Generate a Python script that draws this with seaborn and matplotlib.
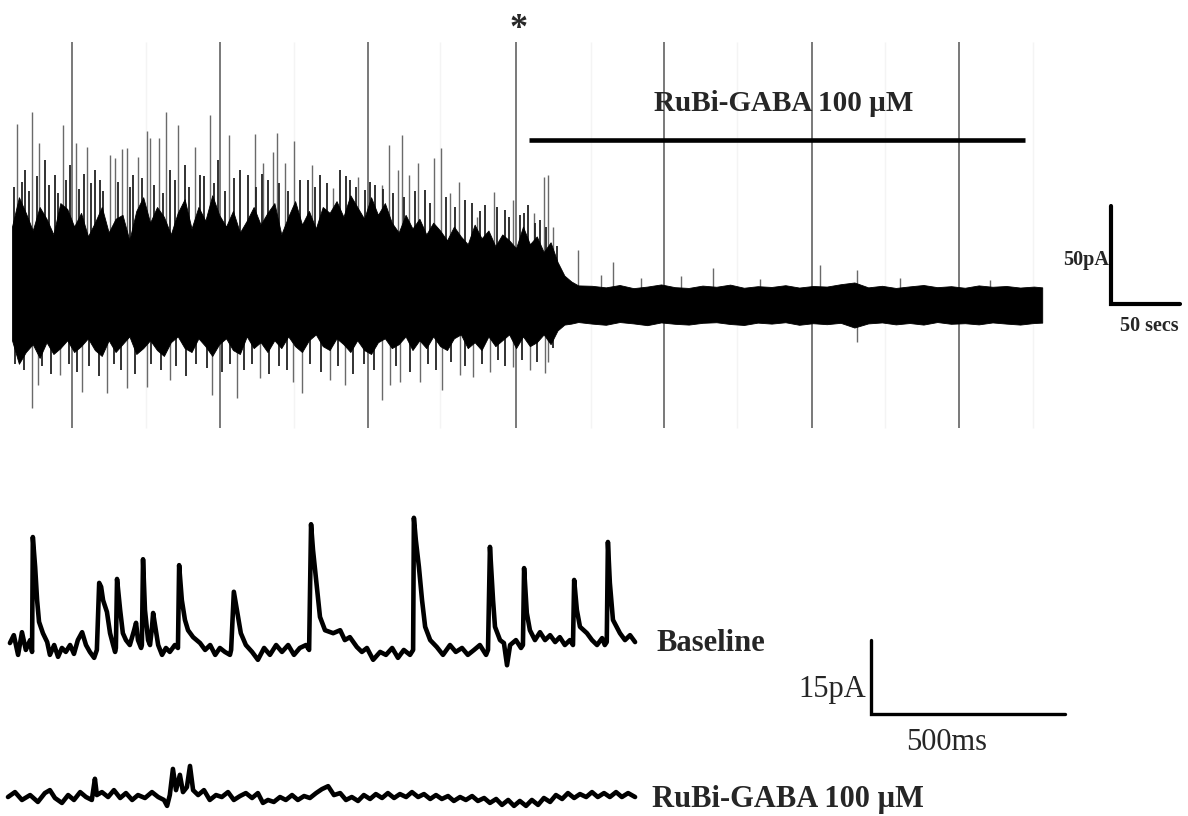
import numpy as np
import pandas as pd
import matplotlib
matplotlib.use("Agg")
import matplotlib.pyplot as plt
import seaborn as sns

# ---- top recording (time in s, current in pA) ----
# outline of the dense black core of the trace
core_t = [0, 5, 10, 15, 20, 25, 30, 35, 40, 45, 50, 55, 60, 65, 70, 75, 80, 85, 90, 95,
          100, 105, 110, 115, 120, 125, 130, 135, 140, 145, 150, 155, 160, 165, 170, 175, 180, 185, 190, 195,
          200, 205, 210, 215, 220, 225, 230, 235, 240, 245, 250, 255, 260, 265, 270, 275, 280, 285, 290, 295,
          300, 305, 310, 315, 320, 325, 330, 335, 340, 345, 350, 355, 360, 365, 370, 375, 380, 385, 390, 395,
          400, 405, 410,
          420, 430, 440, 450, 460, 470, 480, 490, 500, 510, 520, 530, 540, 550, 560, 570, 580, 590,
          600, 610, 620, 630, 640, 650, 660, 670, 680, 690, 700, 710, 720, 730, 740, 746]
core_hi = [40, 55, 47, 38, 50, 44, 36, 52, 49, 40,
           47, 35, 42, 50, 37, 44, 46, 33, 48, 55,
           42, 50, 45, 36, 47, 54, 39, 50, 43, 56,
           46, 40, 48, 37, 43, 50, 41, 47, 52, 36,
           45, 53, 41, 48, 39, 50, 47, 53, 45, 56,
           50, 44, 55, 46, 52, 42, 37, 46, 39, 44,
           36, 42, 38, 33, 40, 35, 31, 41, 34, 38,
           30, 36, 33, 29, 40, 31, 35, 27, 32, 22,
           15, 12, 10,
           9.8, 9.0, 10.2, 8.6, 9.4, 10.5, 9.1, 8.7, 9.9, 9.3, 10.4, 8.8, 9.6, 9.2, 10.1, 8.9, 9.7,
           9.4, 10.6, 11.5, 9.0, 9.8, 8.7, 9.5, 10.2, 9.1, 9.6, 8.8, 10.0, 9.3, 9.7, 8.9, 9.4, 9.0]
core_lo = [-18, -30, -24, -20, -27, -19, -25, -22, -18, -24,
           -21, -17, -23, -26, -18, -24, -20, -16, -25, -22,
           -18, -23, -26, -19, -16, -22, -24, -17, -21, -26,
           -20, -17, -23, -25, -16, -22, -19, -24, -18, -22,
           -16, -21, -24, -18, -15, -21, -23, -17, -20, -24,
           -18, -23, -25, -19, -17, -22, -20, -16, -23, -18,
           -22, -16, -21, -23, -17, -15, -22, -19, -23, -16,
           -21, -18, -15, -22, -16, -21, -19, -15, -20, -13,
           -10, -9.5, -8.7,
           -9.5, -10.1, -8.7, -9.4, -10.3, -8.9, -9.6, -10.0, -9.1, -8.8, -9.7, -10.2, -9.0, -9.5, -8.8, -10.1, -9.3,
           -9.8, -9.1, -11.5, -9.4, -8.9, -9.9, -9.2, -10.0, -8.7, -9.6, -9.3, -9.9, -8.9, -9.5, -10.0, -9.2, -9.0]

# tall (grey) upward events
up_t = [3.6, 14.5, 19.6, 36.9, 46.3, 54.3, 71.0, 74.6, 79.7, 83.3,
        91.2, 97.8, 99.9, 106.4, 111.5, 120.2, 132.5, 143.4, 157.1, 176.0,
        181.8, 189.0, 191.9, 197.7, 204.2, 217.2, 232.4, 250.5, 267.9, 273.0,
        279.5, 282.4, 287.5, 294.0, 305.6, 310.6, 317.2, 323.7, 336.7, 349.0,
        362.8, 378.0, 385.2, 388.1, 391.7, 409.8, 435.2, 507.6, 585.1,
        426.7, 455.6, 484.5, 541.6, 611.9, 643.0, 708.2]
up_pk = [92.3, 98.5, 82.7, 91.8, 82.7, 80.6, 76.5, 75.0, 79.6, 80.1,
         75.5, 88.8, 85.2, 85.2, 98.5, 91.8, 80.6, 96.9, 86.7, 87.2,
         72.4, 78.1, 87.8, 72.4, 83.7, 71.4, 59.7, 65.3, 61.2, 81.6,
         68.9, 86.7, 66.3, 72.4, 75.0, 80.1, 57.1, 62.8, 44.9, 57.7,
         53.6, 46.9, 65.3, 66.3, 39.8, 28.1, 21.9, 18.9, 20.4,
         15.3, 13.8, 14.8, 13.3, 17.9, 13.8, 12.8]

# medium (black) upward events
mid_t = [9.4, 23.9, 31.1, 42.0, 60.1, 63.7, 87.6, 114.4, 125.3, 136.1,
         149.2, 165.1, 170.9, 185.4, 208.5, 223.0, 237.5, 244.8, 255.6, 262.9,
         299.1, 328.0, 342.5, 357.0, 367.8, 373.6, 382.3,
         1.5, 7.2, 12.0, 17.8, 27.0, 33.5, 39.0, 48.5, 52.0, 57.5,
         66.0, 77.0, 85.5, 94.0, 103.0, 109.0, 118.0, 128.5, 139.0, 146.0,
         154.5, 161.0, 176.5, 181.0, 193.5, 199.5, 214.0, 219.5, 228.0, 241.5,
         249.0, 259.5, 269.0, 276.0, 284.0, 291.5, 303.0, 314.0, 321.0, 333.0,
         339.0, 351.5, 360.0, 371.0, 379.0, 387.0, 395.0]
mid_pk = [68.9, 74.0, 66.3, 71.4, 68.9, 63.8, 66.3, 68.9, 71.4, 66.3,
          74.0, 68.9, 66.3, 63.8, 63.8, 66.3, 68.9, 63.8, 58.7, 61.2,
          58.7, 53.6, 51.0, 48.5, 45.9, 51.0, 43.4,
          60, 63, 58, 66, 61, 57, 64, 59, 67, 62,
          58, 63, 60, 65, 61, 57, 64, 60, 66, 62,
          58, 65, 60, 67, 62, 58, 64, 60, 62, 66,
          60, 63, 59, 57, 55, 58, 52, 55, 50, 52,
          48, 50, 45, 47, 42, 40, 30]

# downward deflections (grey) and medium downward (black)
dn_t = [14.5, 18.8, 34.8, 50.7, 68.8, 83.3, 97.8, 114.4, 144.8, 162.9,
        179.6, 203.5, 210.0, 230.3, 241.1, 267.9, 273.7, 281.0, 295.4, 311.4,
        324.4, 333.8, 346.1, 362.8, 375.1, 386.0, 388.1, 611.9]
dn_pk = [-52.6, -40.8, -35.7, -44.4, -44.9, -42.3, -41.8, -38.3, -45.9, -47.4,
         -37.2, -39.3, -44.9, -38.3, -40.8, -48.5, -40.8, -39.3, -39.3, -43.4,
         -35.7, -36.7, -34.2, -31.6, -33.2, -34.7, -29.1, -18.9]
dmid_t = [2.5, 9.0, 22.0, 28.5, 41.0, 47.0, 56.0, 63.0, 74.0, 79.0,
          89.0, 101.0, 108.0, 119.0, 126.0, 133.0, 141.0, 152.0, 158.0, 168.0,
          174.0, 186.0, 193.0, 199.0, 216.0, 224.0, 236.0, 247.0, 255.0, 262.0,
          278.0, 288.0, 301.0, 307.0, 318.0, 328.0, 340.0, 352.0, 357.0, 369.0,
          380.0, 392.0]
dmid_pk = [-30, -33, -31, -35, -30, -34, -31, -36, -30, -33,
           -35, -30, -33, -31, -36, -30, -32, -34, -30, -33,
           -30, -35, -31, -33, -30, -34, -31, -35, -30, -33,
           -31, -34, -30, -33, -29, -31, -30, -28, -31, -28,
           -29, -22]

# stimulus markers and faint grid marks
marker_t = [43.4, 150.6, 257.8, 365.0, 472.1, 579.3, 685.7]
faint_t = [97.0, 204.2, 309.9, 419.3, 525.0, 632.1, 739.3]
marker_lo, marker_hi = -62.8, 134.2
drug_start, drug_end = 374.4, 733.5

# ---- expanded sweeps (time in ms, current in pA) ----
base_t = [5, 15, 26, 36, 46, 57, 62, 64, 70, 75, 80, 90, 101, 108, 119, 129, 139, 149, 160, 170,
          180, 191, 201, 211, 222, 229, 235, 240, 245, 255, 263, 271, 276, 278, 281, 289, 296, 304,
          314, 325, 330, 335, 343, 345, 348, 353, 361, 366, 371, 374, 381, 387, 397, 407, 417, 430,
          438, 441, 448, 456, 464, 477, 495, 508, 521, 534, 546, 559, 572, 575, 582, 590, 600, 613,
          629, 644, 660, 675, 691, 706, 722, 737, 752, 768, 776, 781, 786, 796, 804, 817, 838, 856,
          868, 881, 899, 912, 925, 941, 959, 974, 990, 1005, 1020, 1036, 1044, 1046, 1051, 1059,
          1067, 1075, 1088, 1105, 1121, 1139, 1154, 1170, 1185, 1201, 1216, 1232, 1237, 1242, 1250,
          1255, 1268, 1278, 1286, 1294, 1309, 1322, 1327, 1330, 1337, 1345, 1358, 1371, 1384, 1397,
          1410, 1422, 1435, 1448, 1456, 1459, 1466, 1474, 1492, 1505, 1518, 1531, 1538, 1543, 1546,
          1551, 1559, 1577, 1590, 1603, 1616]
base_i = [0.8, 2.4, -1.6, 3.0, -0.6, 1.4, -1.0, 22.3, 16.2, 9.5, 5.1, 2.8, 1.0, -1.6, 0.4, -2.0, -0.2, -1.0, 0.4, -1.4,
          1.4, 3.0, 0.4, -1.0, -2.2, -0.6, 13.0, 12.2, 9.5, 7.1, 2.8, 0.4, -1.0, -0.2, 13.8, 7.5, 2.8, 1.4,
          0.4, 3.4, 4.9, 1.4, -0.2, 0.4, 17.8, 7.5, 1.4, 0.4, 3.9, 6.9, 3.4, 0.4, -1.6, -0.2, -1.0, 0.4,
          -0.2, 16.6, 9.5, 5.5, 3.4, 2.0, 0.8, -0.6, 0.4, -1.6, -0.2, -1.0, -1.6, -0.6, 11.2, 7.5, 2.8, 0.4,
          -1.0, -2.6, -0.2, -1.6, 0.4, -1.0, 0.4, -1.6, -0.2, 0.4, -0.6, 24.9, 19.7, 12.2, 6.1, 3.4, 2.8, 3.4,
          1.4, 2.0, 0.0, -1.0, -0.2, -2.6, -1.0, -1.6, -0.2, -2.2, -0.6, -1.6, -0.6, 26.2, 21.7, 16.2,
          9.5, 4.1, 1.4, 0.0, -1.6, 0.4, -1.0, -0.2, -1.6, -0.6, 0.4, -1.6, -0.6, 20.3, 9.5,
          4.1, 1.4, 0.8, -3.7, 0.4, 1.4, -0.2, 0.4, 16.0, 6.9, 3.4, 1.4, 3.0, 1.4, 2.4,
          1.0, 2.0, 0.4, 1.4, 0.4, 13.6, 7.5, 4.1, 2.8, 1.4, 0.4, 1.8, 0.4, 1.0, 21.3,
          13.0, 5.5, 2.8, 1.4, 2.4, 1.0]

rubi_t = [0, 18, 36, 57, 77, 95, 108, 121, 139, 155, 170, 186, 201, 216, 224, 229, 242, 258, 273, 289,
          304, 320, 335, 353, 371, 387, 402, 410, 417, 425, 433, 443, 451, 461, 469, 477, 490, 505, 520,
          536, 551, 567, 582, 598, 613, 629, 644, 657, 670, 685, 701, 716, 732, 747, 763, 778, 794, 809,
          825, 840, 856, 871, 886, 902, 917, 933, 948, 964, 979, 995, 1010, 1026, 1041, 1057, 1072, 1088,
          1103, 1118, 1134, 1149, 1165, 1180, 1196, 1211, 1227, 1242, 1258, 1273, 1289, 1304, 1319, 1335,
          1350, 1366, 1381, 1397, 1412, 1428, 1443, 1459, 1474, 1490, 1505, 1520, 1536, 1551, 1567, 1582,
          1598, 1616]
rubi_i = [0.2, 1.2, -0.4, 0.6, -0.8, 1.0, 1.6, 0.0, -1.0, 0.6, -0.4, 1.2, 0.2, -0.4, 3.9, 0.6, 1.2, 0.2, 1.6, 0.0,
          1.0, -0.4, 0.6, 0.0, 1.2, 0.2, -0.4, -1.6, 0.6, 5.9, 1.6, 4.7, 1.2, 2.2, 6.5, 1.6, 0.6, 1.6, -0.4,
          0.6, 0.2, 1.2, -0.4, 0.4, 1.0, 0.0, 1.0, -1.0, -0.4, -0.8, 0.2, -0.4, 0.6, -0.4, 0.4, 0.0, 1.0, 1.8,
          2.4, 0.6, 1.0, -0.4, 0.2, -0.6, 0.6, -0.2, 0.8, 0.0, 1.0, 0.0, 0.8, 0.2, 1.2, 0.2, 0.8, -0.2,
          0.6, -0.2, 0.4, -0.6, 0.2, -0.4, 0.4, -0.6, 0.0, -1.0, -0.2, -1.4, -0.4, -1.6, -0.6, -1.6,
          -0.4, -1.4, 0.0, -0.8, 0.6, -0.2, 1.0, 0.0, 0.8, 0.2, 1.2, 0.2, 1.0, 0.2, 1.2, 0.2,
          1.0, 0.2]

sns.set_style("white")
plt.rcParams["font.family"] = ["Liberation Serif", "DejaVu Serif"]

fig = plt.figure(figsize=(11.88, 8.16), dpi=100)

# ---------------- top: full recording ----------------
ax = fig.add_axes([0, 1 - 450 / 816, 1, 450 / 816])
ax.set_xlim(-8.69, 851.56)
ax.set_ylim(-73.98, 155.61)
ax.axis("off")

ax.vlines(faint_t, marker_lo, marker_hi, color="#f4f4f4", linewidth=1.0, zorder=1)
ax.vlines(marker_t, marker_lo, marker_hi, color="#555555", linewidth=1.1, zorder=2)
ax.vlines(up_t, 0, up_pk, color="#6a6a6a", linewidth=1.0, zorder=3)
ax.vlines(dn_t, 0, dn_pk, color="#6a6a6a", linewidth=1.0, zorder=3)
ax.vlines(mid_t, 0, mid_pk, color="#222222", linewidth=1.3, zorder=4)
ax.vlines(dmid_t, 0, dmid_pk, color="#222222", linewidth=1.3, zorder=4)
ax.fill_between(core_t, core_lo, core_hi, color="black", linewidth=0.6,
                edgecolor="black", zorder=5)

ax.plot([drug_start, drug_end], [84.2, 84.2], color="black", linewidth=3.3,
        solid_capstyle="butt", zorder=6)
ax.text((drug_start + drug_end) / 2 + 5, 102.6, "RuBi-GABA 100 µM", ha="center",
        va="center", fontsize=21, fontweight="bold")
ax.text(367.1, 140.4, "*", ha="center", va="center", fontsize=26, fontweight="bold")

# scale bar 50 pA / 50 s
sx, sy = 795.8, 0.5
ax.plot([sx, sx, sx + 50], [sy + 50, sy, sy], color="black", linewidth=3.0,
        solid_joinstyle="miter", clip_on=False)
ax.text(sx - 1.5, 23.0, "50pA", ha="right", va="center", fontsize=14.5, fontweight="bold")
ax.text(sx + 28, -10.5, "50 secs", ha="center", va="center", fontsize=14.5, fontweight="bold")

# ---------------- bottom: baseline sweep ----------------
ax1 = fig.add_axes([0, 1 - 760 / 816, 1, 280 / 816])
ax1.set_xlim(-20.6, 3040.9)
ax1.set_ylim(-22.92, 33.87)
ax1.axis("off")
sns.lineplot(x=base_t, y=base_i, ax=ax1, color="black", linewidth=3.3,
             sort=False, estimator=None)
ax1.text(1670, 0.8, "Baseline", ha="left", va="center", fontsize=22, fontweight="bold")

# scale bar 15 pA / 500 ms
bx, by = 2224, -13.6
ax1.plot([bx, bx, bx + 500], [by + 15, by, by], color="black", linewidth=2.4,
         solid_joinstyle="miter")
ax1.text(bx - 12, -8.7, "15pA", ha="right", va="center", fontsize=22)
ax1.text(bx + 196, -19.3, "500ms", ha="center", va="center", fontsize=22)

# ---------------- bottom: RuBi-GABA sweep ----------------
ax2 = fig.add_axes([0, 0, 1, 56 / 816])
ax2.set_xlim(-20.6, 3040.9)
ax2.set_ylim(-3.65, 7.71)
ax2.axis("off")
sns.lineplot(x=rubi_t, y=rubi_i, ax=ax2, color="black", linewidth=3.3,
             sort=False, estimator=None)
ax2.text(1660, -0.4, "RuBi-GABA 100 µM", ha="left", va="center", fontsize=22,
         fontweight="bold", clip_on=False)

fig.savefig("out.png", dpi=100, facecolor="white")
